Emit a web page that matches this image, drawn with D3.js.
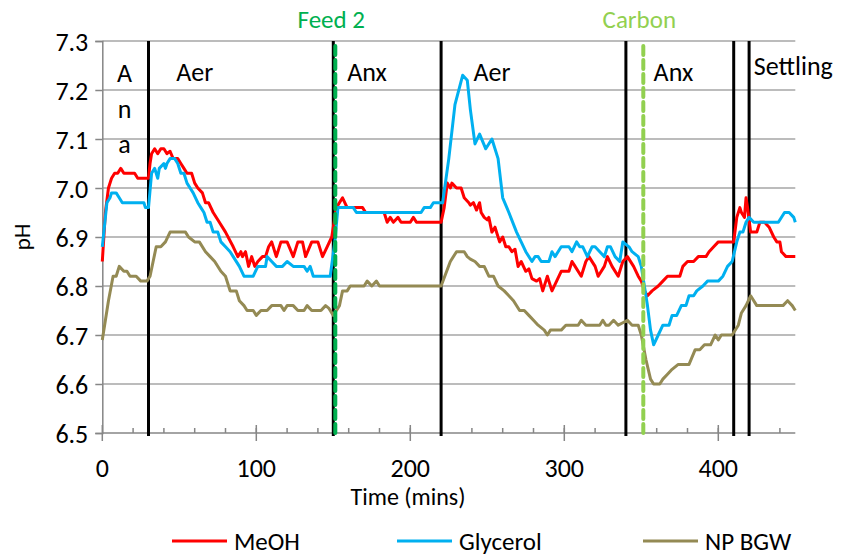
<!DOCTYPE html>
<html>
<head>
<meta charset="utf-8">
<script src="https://cdn.jsdelivr.net/npm/d3@7"></script>
<style>
  html, body { margin: 0; padding: 0; background: #fff; }
  svg { display: block; }
  text { font-family: Carlito, Lato, "Open Sans", sans-serif; fill: #000; }
</style>
</head>
<body>
<svg id="chart" width="848" height="557"></svg>
<script>
// pH readings [time (min), pH] for each carbon source
const meoh = [[0,6.85],[2,6.95],[4,7.00],[6,7.02],[8,7.03],[10,7.03],[12,7.04],[14,7.03],[21,7.03],[23,7.02],[30,7.02],[31,7.05],[32,7.07],[34,7.08],[36,7.07],[38,7.08],[40,7.08],[42,7.07],[44,7.075],[46,7.06],[49,7.06],[51,7.05],[53,7.04],[55,7.03],[58,7.03],[60,7.01],[62,7.00],[65,6.99],[67,6.97],[69,6.97],[72,6.95],[76,6.93],[80,6.91],[85,6.88],[88,6.86],[90,6.87],[91,6.86],[93,6.87],[95,6.84],[97,6.86],[99,6.84],[101,6.85],[104,6.86],[106,6.86],[108,6.88],[110,6.89],[113,6.86],[116,6.89],[120,6.89],[124,6.86],[127,6.89],[130,6.89],[132,6.86],[136,6.89],[140,6.89],[143,6.86],[146,6.88],[149,6.90],[152,6.96],[156,6.98],[159,6.96],[169,6.96],[171,6.95],[183,6.95],[185,6.93],[187,6.94],[189,6.93],[192,6.94],[194,6.93],[200,6.93],[202,6.94],[204,6.93],[218,6.93],[220,6.93],[222,6.96],[224,7.01],[226,7.00],[227,7.01],[230,7.00],[233,7.00],[235,6.98],[238,6.97],[239,6.965],[241,6.97],[243,6.955],[245,6.97],[246,6.95],[248,6.94],[250,6.935],[251,6.94],[253,6.91],[255,6.92],[258,6.89],[260,6.90],[262,6.88],[264,6.88],[266,6.87],[268,6.875],[270,6.84],[272,6.85],[275,6.83],[277,6.835],[279,6.815],[282,6.81],[284,6.815],[286,6.79],[288,6.81],[289,6.82],[292,6.79],[295,6.81],[298,6.83],[303,6.83],[305,6.85],[307,6.84],[311,6.82],[314,6.85],[316,6.86],[320,6.84],[322,6.82],[326,6.84],[328,6.86],[331,6.84],[335,6.82],[338,6.85],[341,6.86],[345,6.84],[348,6.82],[350,6.81],[352,6.79],[354,6.78],[357,6.79],[361,6.80],[364,6.81],[367,6.82],[375,6.82],[377,6.84],[380,6.85],[384,6.85],[387,6.86],[392,6.86],[394,6.87],[397,6.88],[400,6.89],[410,6.89],[412,6.94],[414,6.96],[415,6.95],[417,6.94],[418,6.98],[419,6.96],[421,6.91],[425,6.91],[427,6.93],[430,6.93],[433,6.92],[436,6.90],[438,6.89],[440,6.89],[441,6.87],[444,6.86],[450,6.86]];

const glycerol = [[0,6.88],[3,6.97],[5,6.98],[6,6.99],[9,6.99],[11,6.98],[13,6.97],[27,6.97],[28,6.96],[30,6.96],[32,7.03],[34,7.04],[36,7.02],[37,7.04],[40,7.05],[41,7.04],[42,7.05],[44,7.06],[47,7.06],[49,7.05],[51,7.03],[53,7.03],[55,7.01],[57,7.00],[59,6.99],[62,6.97],[64,6.96],[66,6.95],[68,6.93],[70,6.93],[72,6.91],[75,6.91],[77,6.89],[80,6.88],[83,6.87],[85,6.86],[89,6.84],[92,6.82],[98,6.82],[101,6.84],[106,6.84],[107,6.86],[110,6.85],[113,6.84],[117,6.84],[120,6.85],[124,6.84],[131,6.84],[133,6.83],[135,6.84],[137,6.82],[148,6.82],[151,6.89],[153,6.96],[163,6.96],[165,6.95],[207,6.95],[209,6.96],[213,6.96],[215,6.97],[221,6.97],[225,7.06],[229,7.17],[234,7.23],[237,7.22],[239,7.16],[242,7.09],[245,7.11],[249,7.08],[253,7.10],[257,7.06],[260,6.98],[264,6.95],[269,6.91],[272,6.89],[275,6.87],[279,6.85],[281,6.86],[283,6.86],[285,6.85],[290,6.85],[292,6.87],[294,6.86],[298,6.88],[303,6.88],[305,6.87],[308,6.89],[310,6.88],[312,6.88],[315,6.86],[318,6.88],[320,6.88],[323,6.87],[326,6.86],[328,6.88],[330,6.88],[333,6.86],[336,6.85],[338,6.89],[342,6.88],[344,6.87],[348,6.86],[350,6.84],[352,6.80],[354,6.76],[356,6.71],[358,6.68],[361,6.70],[364,6.72],[368,6.72],[370,6.74],[373,6.74],[376,6.76],[379,6.76],[381,6.78],[384,6.78],[386,6.79],[390,6.80],[393,6.81],[400,6.81],[403,6.82],[406,6.84],[409,6.85],[412,6.89],[414,6.91],[416,6.91],[418,6.93],[420,6.94],[423,6.93],[439,6.93],[443,6.95],[446,6.95],[449,6.94],[450,6.93]];

const npBgw = [[0,6.69],[4,6.77],[7,6.82],[9,6.82],[11,6.84],[14,6.83],[16,6.83],[18,6.82],[22,6.82],[25,6.81],[29,6.81],[31,6.82],[33,6.85],[35,6.88],[38,6.88],[41,6.89],[44,6.91],[54,6.91],[56,6.90],[60,6.89],[63,6.89],[67,6.87],[70,6.86],[73,6.85],[77,6.83],[80,6.82],[83,6.79],[87,6.79],[89,6.77],[92,6.76],[94,6.75],[98,6.75],[100,6.74],[103,6.75],[107,6.75],[110,6.76],[116,6.76],[118,6.75],[120,6.76],[124,6.76],[127,6.75],[131,6.75],[133,6.76],[136,6.75],[142,6.75],[145,6.76],[147,6.755],[150,6.74],[154,6.76],[156,6.79],[159,6.79],[161,6.80],[170,6.80],[172,6.81],[175,6.80],[178,6.81],[180,6.80],[220,6.80],[223,6.825],[226,6.85],[230,6.87],[235,6.87],[237,6.86],[239,6.855],[242,6.85],[245,6.84],[248,6.84],[251,6.82],[254,6.82],[257,6.80],[261,6.79],[264,6.78],[267,6.77],[271,6.75],[274,6.75],[277,6.74],[280,6.73],[283,6.72],[287,6.71],[289,6.70],[291,6.71],[298,6.71],[301,6.72],[309,6.72],[311,6.73],[314,6.72],[323,6.72],[325,6.73],[327,6.72],[329,6.72],[332,6.73],[335,6.72],[338,6.725],[341,6.73],[344,6.72],[348,6.72],[350,6.70],[353,6.65],[356,6.61],[358,6.60],[362,6.60],[364,6.61],[367,6.62],[370,6.63],[374,6.64],[381,6.64],[385,6.67],[388,6.67],[391,6.68],[395,6.68],[398,6.70],[400,6.69],[402,6.70],[409,6.70],[413,6.72],[415,6.745],[418,6.76],[421,6.78],[425,6.76],[442,6.76],[445,6.77],[448,6.76],[450,6.75]];

const seriesNames = ["MeOH", "Glycerol", "NP BGW"];
const yTicks = [6.5, 6.6, 6.7, 6.8, 6.9, 7.0, 7.1, 7.2, 7.3];
const xTicks = [0, 100, 200, 300, 400];
const phaseBoundaries = [30, 150, 220, 340, 410, 420];
const feedTimes = [150, 350];
const feedLabels = ["Feed 2", "Carbon"];
const phaseNames = ["Aer", "Anx", "Aer", "Anx", "Settling"];
const phaseLabelTimes = [48, 159, 241, 358, 423];
const anaLetters = ["A", "n", "a"];

const colors = ["#FF0000", "#00B0F0", "#948A54"];
const feedColors = ["#00B050", "#92D050"];

const svg = d3.select("#chart");
const x = d3.scaleLinear().domain([0, 450]).range([102.3, 795.3]);
const y = d3.scaleLinear().domain([6.5, 7.3]).range([433, 41]);

// horizontal gridlines
svg.append("g").selectAll("line").data(yTicks.slice(1)).join("line")
  .attr("x1", x(0)).attr("x2", x(450))
  .attr("y1", d => y(d)).attr("y2", d => y(d))
  .attr("stroke", "#a6a6a6").attr("stroke-width", 1.5);

// y axis
const yAxis = d3.axisLeft(y).tickValues(yTicks).tickSize(7).tickFormat(d3.format(".1f"));
const gy = svg.append("g").attr("transform", `translate(${x(0)},0)`).call(yAxis);
gy.select(".domain").attr("stroke", "#868686").attr("stroke-width", 1.5);
gy.selectAll(".tick line").attr("stroke", "#868686").attr("stroke-width", 1.5);
gy.selectAll(".tick text").attr("font-size", 26).attr("x", -14).attr("dy", "0.35em")
  .style("font-family", "Carlito, Lato, sans-serif").style("fill", "#000");

// x axis: minor ticks every 20 min above the axis, majors crossing it
const gx = svg.append("g");
gx.append("line").attr("x1", x(0)).attr("x2", x(450)).attr("y1", y(6.5)).attr("y2", y(6.5))
  .attr("stroke", "#868686").attr("stroke-width", 1.5);
gx.selectAll("line.minor").data(d3.range(20, 451, 20)).join("line").attr("class", "minor")
  .attr("x1", d => x(d)).attr("x2", d => x(d))
  .attr("y1", y(6.5) - 5).attr("y2", y(6.5))
  .attr("stroke", "#868686").attr("stroke-width", 1.5);
gx.selectAll("line.major").data(xTicks).join("line").attr("class", "major")
  .attr("x1", d => x(d)).attr("x2", d => x(d))
  .attr("y1", y(6.5) - 8).attr("y2", y(6.5) + 8)
  .attr("stroke", "#868686").attr("stroke-width", 1.5);
gx.selectAll("text").data(xTicks).join("text")
  .attr("x", d => x(d)).attr("y", 477)
  .attr("text-anchor", "middle").attr("font-size", 26)
  .text(d => d);

// axis titles
svg.append("text").attr("x", 408).attr("y", 505)
  .attr("text-anchor", "middle").attr("font-size", 24).text("Time (mins)");
svg.append("text").attr("transform", `translate(30,${y(6.9)}) rotate(-90)`)
  .attr("text-anchor", "middle").attr("font-size", 23).text("pH");

// phase boundaries
svg.append("g").selectAll("line").data(phaseBoundaries).join("line")
  .attr("x1", d => x(d)).attr("x2", d => x(d))
  .attr("y1", y(7.3)).attr("y2", y(6.5) + 3)
  .attr("stroke", "#000").attr("stroke-width", 3);

// series lines
const line = d3.line().x(d => x(d[0])).y(d => y(d[1]));
[meoh, glycerol, npBgw].forEach((s, i) => {
  svg.append("path").datum(s).attr("d", line)
    .attr("fill", "none").attr("stroke", colors[i]).attr("stroke-width", 3)
    .attr("stroke-linejoin", "round");
});

// feed markers
feedTimes.forEach((t, i) => {
  svg.append("line")
    .attr("x1", x(t) + 2).attr("x2", x(t) + 2)
    .attr("y1", y(7.3) + 5).attr("y2", y(6.5) + 3)
    .attr("stroke", feedColors[i]).attr("stroke-width", 4)
    .attr("stroke-dasharray", "9 5").attr("stroke-linecap", "round");
  svg.append("text").attr("x", x(t) - 2).attr("y", 28)
    .attr("text-anchor", "middle").attr("font-size", 25)
    .style("fill", feedColors[i]).text(feedLabels[i]);
});

// phase labels
svg.append("g").selectAll("text").data(phaseNames).join("text")
  .attr("x", (d, i) => x(phaseLabelTimes[i]))
  .attr("y", (d, i) => d === "Settling" ? 75 : 81)
  .attr("font-size", 26).text(d => d);
svg.append("g").selectAll("text").data(anaLetters).join("text")
  .attr("x", 124.5).attr("y", (d, i) => 82 + i * 35.5)
  .attr("text-anchor", "middle").attr("font-size", 26).text(d => d);

// legend
const legendX = [172, 397, 643];
const lg = svg.append("g");
seriesNames.forEach((n, i) => {
  lg.append("line").attr("x1", legendX[i]).attr("x2", legendX[i] + 55)
    .attr("y1", 541).attr("y2", 541).attr("stroke", colors[i]).attr("stroke-width", 3);
  lg.append("text").attr("x", legendX[i] + 62).attr("y", 550)
    .attr("font-size", 25).text(n);
});
</script>
</body>
</html>
